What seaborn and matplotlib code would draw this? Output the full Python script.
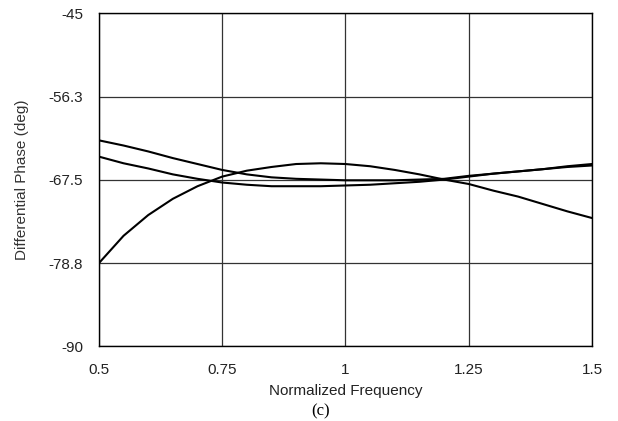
import matplotlib
matplotlib.use("Agg")
import matplotlib.pyplot as plt
import numpy as np
import pandas as pd
import seaborn as sns

# Datos
freq = [0.50, 0.55, 0.60, 0.65, 0.70, 0.75, 0.80, 0.85, 0.90, 0.95, 1.00,
        1.05, 1.10, 1.15, 1.20, 1.25, 1.30, 1.35, 1.40, 1.45, 1.50]

phase_hump = [-78.8, -75.1, -72.3, -70.1, -68.4, -67.1, -66.3, -65.8, -65.4, -65.3, -65.4,
              -65.7, -66.2, -66.8, -67.5, -68.1, -69.0, -69.8, -70.8, -71.8, -72.7]
phase_upper = [-62.2, -62.9, -63.7, -64.6, -65.4, -66.2, -66.8, -67.2, -67.4, -67.5, -67.6,
               -67.6, -67.6, -67.5, -67.4, -67.0, -66.7, -66.4, -66.1, -65.7, -65.4]
phase_lower = [-64.4, -65.3, -66.0, -66.8, -67.4, -67.9, -68.2, -68.4, -68.4, -68.4, -68.3,
               -68.2, -68.0, -67.8, -67.5, -67.1, -66.7, -66.4, -66.1, -65.8, -65.6]

x_ticks = [0.5, 0.75, 1.0, 1.25, 1.5]
x_tick_labels = ["0.5", "0.75", "1", "1.25", "1.5"]
y_ticks = [-90, -78.8, -67.5, -56.3, -45]
y_tick_labels = ["-90", "-78.8", "-67.5", "-56.3", "-45"]

sns.set_style("white")
plt.rcParams["font.family"] = ["Liberation Sans", "DejaVu Sans"]

fig = plt.figure(figsize=(6.18, 4.21), dpi=100)
ax = fig.add_axes([0.160, 0.178, 0.798, 0.791])

for series in (phase_hump, phase_upper, phase_lower):
    df = pd.DataFrame({"freq": freq, "phase": series})
    sns.lineplot(data=df, x="freq", y="phase", ax=ax, color="black",
                 linewidth=1.5, zorder=3)

ax.set_xlim(0.5, 1.5)
ax.set_ylim(-90, -45)
ax.set_xticks(x_ticks)
ax.set_xticklabels(x_tick_labels)
ax.set_yticks(y_ticks)
ax.set_yticklabels(y_tick_labels)
ax.tick_params(axis="both", length=0, labelsize=11, colors="#222222")
ax.tick_params(axis="y", pad=11.5)
ax.tick_params(axis="x", pad=12.5)

ax.grid(True, color="#333333", linewidth=0.9)
for spine in ax.spines.values():
    spine.set_color("black")
    spine.set_linewidth(1.0)

ax.set_xlabel("Normalized Frequency", fontsize=11, color="#222222", labelpad=5)
ax.set_ylabel("Differential Phase (deg)", fontsize=11, color="#333333", labelpad=14)

fig.text(0.518, 0.024, "(c)", fontsize=12, family=["Liberation Serif", "DejaVu Serif"],
         ha="center", va="center", color="black")

fig.savefig("out.png", dpi=100)
